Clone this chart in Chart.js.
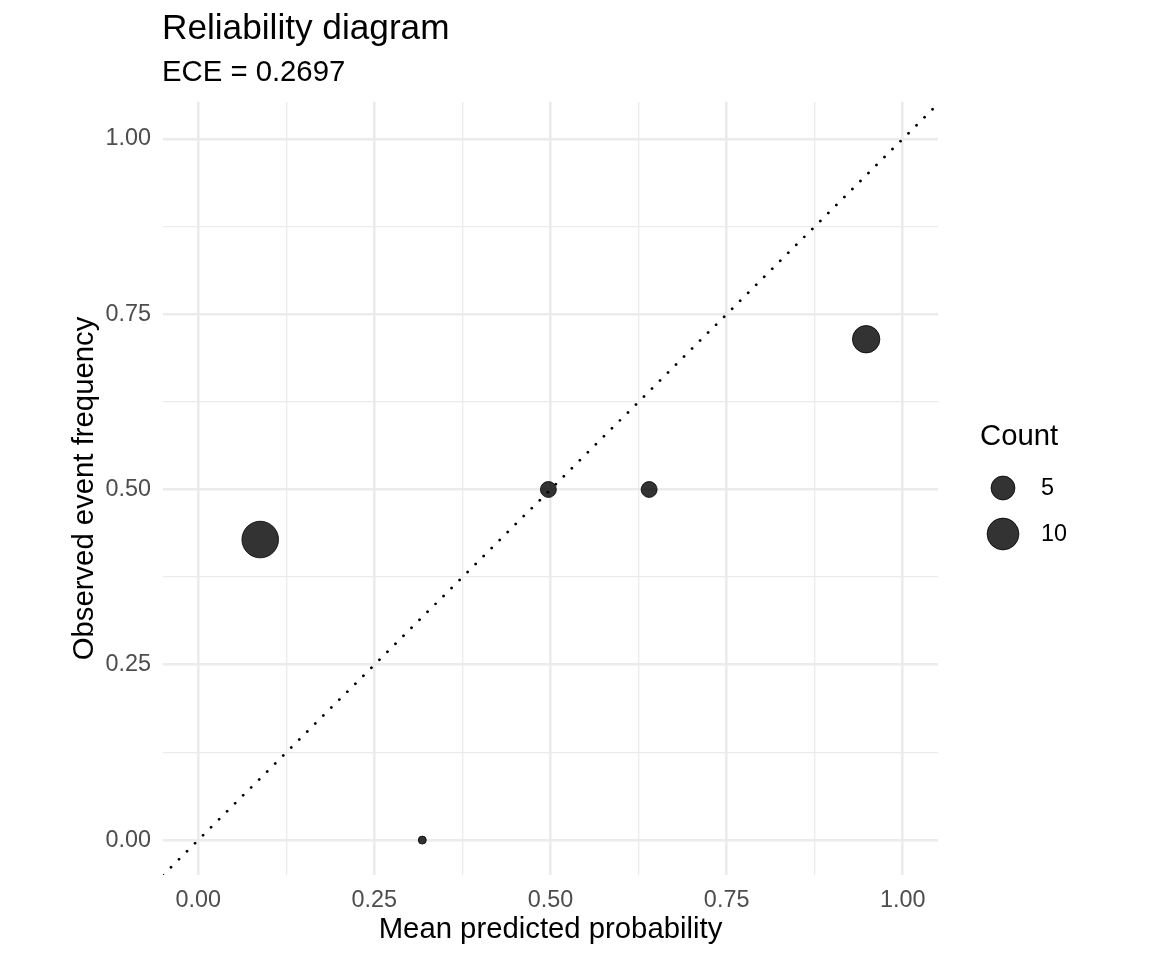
<!DOCTYPE html>
<html>
<head>
<meta charset="utf-8">
<script src="https://cdn.jsdelivr.net/npm/chart.js@4/dist/chart.umd.min.js"></script>
<style>
  html, body { margin: 0; padding: 0; background: #fff; }
  #wrap { width: 1152px; height: 960px; position: relative; }
</style>
</head>
<body>
<div id="wrap"><canvas id="chartRel"></canvas></div>
<script>
// reliability bins
var meanPred = [0.088, 0.318, 0.497, 0.640, 0.948];
var obsFreq  = [0.4286, 0.0, 0.5, 0.5, 0.7143];
var counts   = [14, 1, 2, 2, 7];
var legendBreaks = [5, 10];
var refLine = [-0.05, 1.05];
var gridVals = [0, 0.125, 0.25, 0.375, 0.5, 0.625, 0.75, 0.875, 1];
var titleText = 'Reliability diagram';
var subtitleText = 'ECE = 0.2697';

(function () {
  var FONT = "'Liberation Sans', Arial, Helvetica, sans-serif";
  var minN = Math.min.apply(null, counts), maxN = Math.max.apply(null, counts);

  // taille façon ggplot (aire) : size 1..6
  function radiusFor(n) {
    var s = 1 + 5 * Math.sqrt((n - minN) / (maxN - minN));
    return 1.64 + 2.86 * s - 0.5;
  }

  var pts = meanPred.map(function (x, i) { return { x: x, y: obsFreq[i], n: counts[i] }; });

  function isMajor(v) { return Math.abs(v * 4 - Math.round(v * 4)) < 1e-9; }

  var axisCommon = function (pos) {
    return {
      type: 'linear',
      position: pos,
      min: -0.05,
      max: 1.05,
      border: { display: false },
      afterBuildTicks: function (scale) {
        scale.ticks = gridVals.map(function (v) { return { value: v }; });
      },
      ticks: {
        autoSkip: false,
        maxRotation: 0,
        color: '#4D4D4D',
        font: { family: FONT, size: 23.4 },
        padding: 12,
        callback: function (v) { return isMajor(v) ? v.toFixed(2) : ''; }
      },
      grid: {
        drawTicks: false,
        color: '#EBEBEB',
        lineWidth: function (ctx) { return isMajor(ctx.tick.value) ? 2.6 : 1.3; }
      }
    };
  };

  var xAxis = axisCommon('bottom');
  xAxis.afterFit = function (scale) { scale.height = 960 - 875; };
  var yAxis = axisCommon('left');
  yAxis.min = -0.0498;
  yAxis.max = 1.0526;
  yAxis.afterFit = function (scale) { scale.width = 163; };

  var decor = {
    id: 'decor',
    afterDraw: function (chart) {
      var c = chart.ctx, a = chart.chartArea;
      c.save();
      c.fillStyle = '#000';
      c.textBaseline = 'middle';
      c.textAlign = 'left';
      c.font = '35.2px ' + FONT;
      c.fillText(titleText, a.left - 1, 29);
      c.font = '29.3px ' + FONT;
      c.fillText(subtitleText, a.left - 1, 73);

      // titres des axes
      c.textAlign = 'center';
      c.fillText('Mean predicted probability', (a.left + a.right) / 2, 930);
      c.save();
      c.translate(85, (a.top + a.bottom) / 2);
      c.rotate(-Math.PI / 2);
      c.fillText('Observed event frequency', 0, 0);
      c.restore();

      // légende des tailles
      c.textAlign = 'left';
      c.fillText('Count', 980, 437);
      var ys = [488, 534];
      c.font = '23.4px ' + FONT;
      legendBreaks.forEach(function (n, i) {
        c.beginPath();
        c.arc(1003, ys[i], radiusFor(n), 0, Math.PI * 2);
        c.fillStyle = 'rgba(0,0,0,0.8)';
        c.fill();
        c.lineWidth = 1;
        c.strokeStyle = 'rgba(0,0,0,0.8)';
        c.stroke();
        c.fillStyle = '#000';
        c.fillText(String(n), 1041, ys[i] + 1);
      });
      c.restore();
    }
  };

  try {
    new Chart(document.getElementById('chartRel'), {
      type: 'scatter',
      data: {
        datasets: [
          {
            type: 'line',
            label: 'diag',
            data: refLine.map(function (v) { return { x: v, y: v }; }),
            borderColor: '#000',
            borderWidth: 2.8,
            borderCapStyle: 'round',
            borderDash: [0.01, 11.3],
            pointRadius: 0,
            fill: false,
            order: 0
          },
          {
            label: 'Count',
            data: pts,
            backgroundColor: 'rgba(0,0,0,0.8)',
            borderColor: 'rgba(0,0,0,0.8)',
            borderWidth: 1,
            pointRadius: function (ctx) { return ctx.raw ? radiusFor(ctx.raw.n) : 3; },
            pointHoverRadius: function (ctx) { return ctx.raw ? radiusFor(ctx.raw.n) : 3; },
            order: 1
          }
        ]
      },
      options: {
        responsive: true,
        maintainAspectRatio: false,
        animation: false,
        layout: { padding: { left: 0, top: 102, right: 214, bottom: 0 } },
        plugins: { legend: { display: false }, tooltip: { enabled: false }, title: { display: false } },
        scales: { x: xAxis, y: yAxis }
      },
      plugins: [decor]
    });
  } catch (e) { console.error('chartRel', e); }
})();
</script>
</body>
</html>
